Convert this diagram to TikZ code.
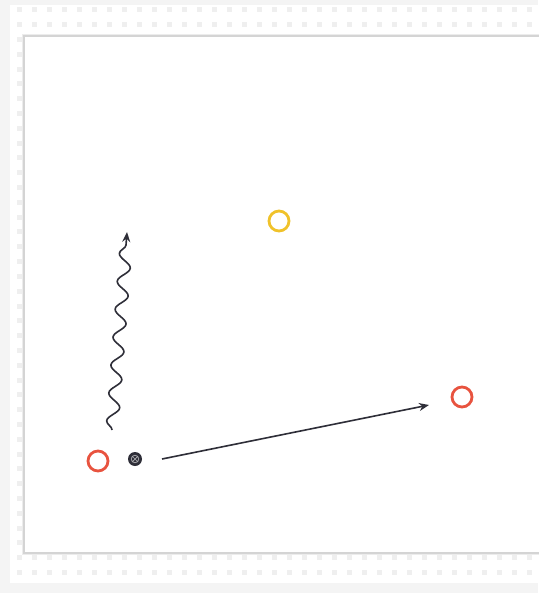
\documentclass[tikz,border=0pt]{standalone}
\usetikzlibrary{arrows.meta,decorations.pathmorphing}
\definecolor{pagebg}{HTML}{F4F4F4}
\definecolor{dotgray}{HTML}{EFEFEF}
\definecolor{panelline}{HTML}{D4D4D4}
\definecolor{conered}{HTML}{E8533F}
\definecolor{coneyellow}{HTML}{F0C22A}
\definecolor{ink}{HTML}{2E2E38}
\tikzset{
  cone/.style={circle, draw=#1, line width=2.8pt, minimum size=20pt, inner sep=0pt, fill=white},
  player/.style={circle, fill=ink, minimum size=14pt, inner sep=0pt},
  run/.style={draw=ink, line width=1.6pt, -{Stealth[length=10pt,width=8pt]}},
  dribble/.style={draw=ink, line width=1.6pt, -{Stealth[length=10pt,width=8pt]},
    decorate, decoration={snake, amplitude=6pt, segment length=28pt, post length=8pt}},
}
\begin{document}
\begin{tikzpicture}[x=1pt,y=-1pt]
  \useasboundingbox (0,0) rectangle (538,593);
  % page and dotted board
  \fill[pagebg] (0,0) rectangle (538,593);
  \fill[white] (10,5) rectangle (538,583);
  \foreach \i in {0,...,35}{
    \foreach \j in {0,...,38}{
      \fill[dotgray] ({19+15*\i-2.5},{10+14.8*\j-2.5}) rectangle ++(5,5);
    }
  }
  % field panel with soft edge
  \draw[panelline!45, line width=4pt] (24,36) rectangle (560,553);
  \fill[white] (24,36) rectangle (560,553);
  \draw[panelline, line width=1.4pt] (24,36) rectangle (560,553);
  % cones
  \node[cone=coneyellow] (yc) at (279,221) {};
  \node[cone=conered] (rl) at (98,461) {};
  \node[cone=conered] (rr) at (462,397) {};
  % player
  \node[player] (pl) at (135,459) {};
  \draw[white!60!ink, line width=0.7pt] (pl.center) circle (3.8pt)
    (pl.center) ++(-2.6pt,-2.6pt) -- ++(5.2pt,5.2pt) (pl.center) ++(-2.6pt,2.6pt) -- ++(5.2pt,-5.2pt);
  % movements
  \coordinate (dstart) at (112,430);
  \coordinate (dend) at (127,232);
  \coordinate (rstart) at (162,459);
  \coordinate (rend) at (429,405);
  \draw[dribble] (dstart) -- (dend);
  \draw[run] (rstart) -- (rend);
\end{tikzpicture}
\end{document}
